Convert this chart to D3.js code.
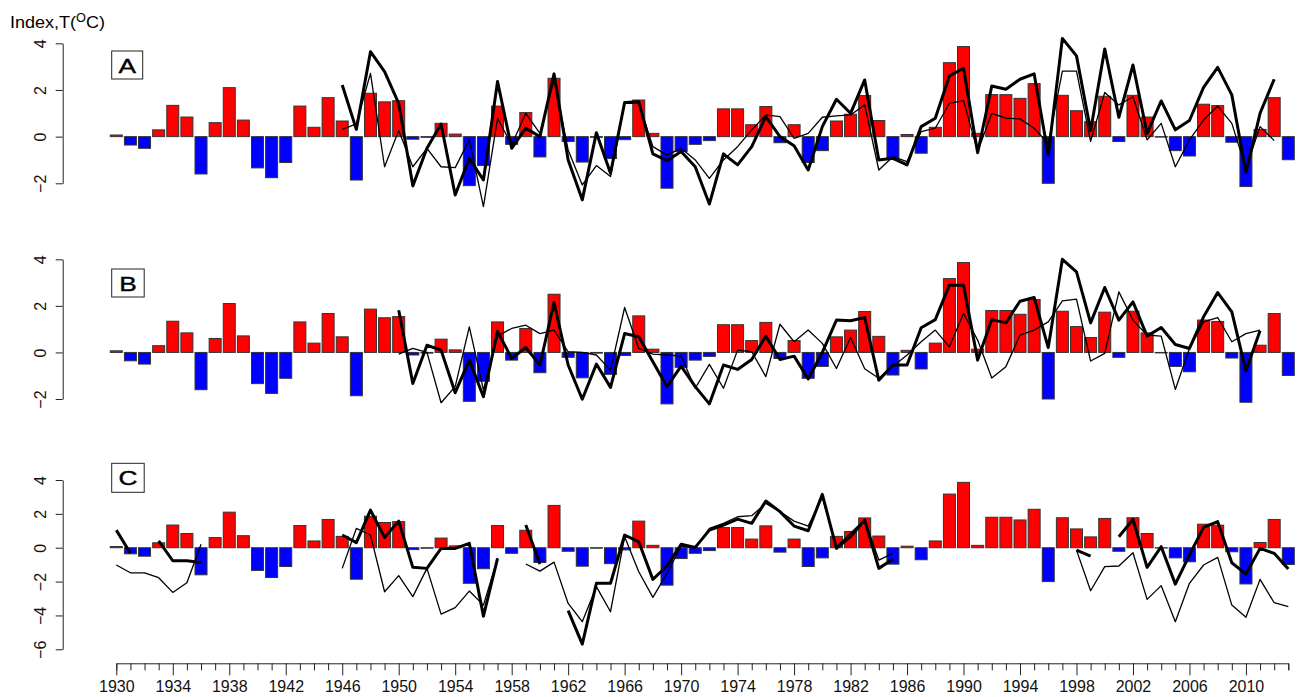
<!DOCTYPE html>
<html><head><meta charset="utf-8">
<script src="https://cdn.jsdelivr.net/npm/d3@7"></script>
<style>
html,body{margin:0;padding:0;background:#fff;}
svg{display:block;font-family:"Liberation Sans",Arial,Helvetica,sans-serif;}
</style></head>
<body>
<svg id="chart" width="1299" height="697"></svg>
<script>
// ---------------- DATA ----------------
const years = d3.range(1930, 2014); // 1930..2013
const xTickLabels = ["1930","1934","1938","1942","1946","1950","1954","1958","1962","1966","1970","1974","1978","1982","1986","1990","1994","1998","2002","2006","2010"];
const panelLetters = ["A","B","C"];

// temperature anomaly bars (same in all panels)
const barValues = [0.07,-0.36,-0.5,0.29,1.34,0.84,-1.6,0.6,2.1,0.71,
 -1.34,-1.76,-1.11,1.31,0.4,1.67,0.67,-1.86,1.86,1.49,
 1.54,-0.11,-0.03,0.57,0.11,-2.1,-1.24,1.31,-0.33,1.03,
 -0.87,2.5,-0.21,-1.09,-0.03,-0.94,-0.13,1.57,0.14,-2.21,
 -0.64,-0.33,-0.17,1.19,1.19,0.51,1.29,-0.26,0.51,-1.11,
 -0.6,0.67,0.96,1.76,0.69,-0.97,0.09,-0.71,0.4,3.17,
 3.86,0.14,1.8,1.8,1.64,2.27,-2.0,1.77,1.11,0.64,
 1.73,-0.21,1.77,0.84,-0.02,-0.6,-0.83,1.39,1.33,-0.24,
 -2.14,0.31,1.67,-0.99];

const N = null;
// Panel A
const thickA = [N,N,N,N,N,N,N,N,N,N, N,N,N,N,N,N,2.21,0.31,3.64,2.79,
 1.43,-2.11,-0.5,0.54,-2.5,-0.93,-1.86,2.36,-0.5,0.36,
 0,2.69,-1.0,-2.71,0.17,-1.57,1.46,1.5,-0.74,-1.03,
 -0.64,-1.29,-2.89,-0.74,-1.21,-0.43,0.86,0,-0.39,-1.43,
 0.43,1.6,1.0,2.43,-1.0,-0.93,-1.21,0.43,0.79,2.6,
 2.93,-0.69,2.17,2.03,2.46,2.69,-0.79,4.21,3.46,0.26,
 3.76,0.83,3.07,0.14,1.53,0.29,0.69,2.11,2.97,1.79,
 -1.54,1.0,2.46,N];
const thinA = [N,N,N,N,N,N,N,N,N,N, N,N,N,N,N,N,0.31,0.55,2.71,-1.29,
 0.26,-1.29,-0.5,-1.29,-1.33,-0.14,-3.0,0.79,-0.36,1.0,
 0.14,2.43,-0.57,-2.07,-1.24,-1.71,1.43,1.43,-0.43,-0.79,
 -0.5,-1.0,-1.79,-1.0,-0.43,0.29,0.93,0.86,-0.07,0.14,
 0.83,0.89,0.93,1.36,-1.43,-0.86,-1.07,0.21,0.36,1.43,
 1.54,-0.64,1.0,0.79,0.76,0.36,-0.29,2.81,2.81,-0.2,
 1.89,1.36,1.71,-0.14,0.57,-1.29,-0.14,0.71,1.31,0.57,
 -1.36,0.43,-0.17,N];
// Panel B
const thickB = [N,N,N,N,N,N,N,N,N,N, N,N,N,N,N,N,N,N,N,N,
 1.81,-1.33,0.31,0.1,-1.73,-0.33,-1.9,0.91,-0.26,0.21,
 -0.54,2.14,-0.54,-2.01,-0.5,-1.5,0.81,0.67,-0.4,-1.47,
 -0.59,-1.47,-2.21,-0.54,-0.73,-0.3,0.7,-0.3,-0.16,-1.14,
 0,1.39,1.36,1.5,-1.19,-0.54,-0.54,1.06,1.41,2.89,
 2.89,-0.33,1.41,1.27,2.2,2.36,0.21,4.0,3.46,1.27,
 2.79,1.39,2.17,0.7,1.07,0.34,0.17,1.53,2.57,1.74,
 -0.79,0.93,N,N];
const thinB = [N,N,N,N,N,N,N,N,N,N, N,N,N,N,N,N,N,N,N,N,
 -0.07,0.17,0.0,-2.16,-1.47,1.1,-1.61,0.7,1.03,1.17,
 0.81,0.96,0.03,0.0,-0.11,-0.76,1.93,0.17,-0.07,-0.11,
 -0.16,-1.54,-0.51,-1.54,0.1,0.03,-1.04,1.21,0.46,0.96,
 0.39,-0.69,0.64,-0.7,-1.11,-0.6,-0.11,0.46,0.96,0.24,
 1.67,0.53,-1.1,-0.61,0.74,0.96,1.31,2.21,2.29,-0.37,
 -0.04,2.6,1.39,0.74,0.7,-1.59,0.17,1.31,1.5,0.46,
 0.81,0.96,N,N];
// Panel C
const thickC = [1.04,-0.33,N,0.41,-0.77,-0.77,-0.87,N,N,N, N,N,N,N,N,N,0.75,0.3,2.22,0.61,
 1.57,-1.16,-1.22,-0.04,-0.04,0.26,-4.04,-0.63,N,1.34,
 -0.96,N,-3.72,-5.69,-2.1,-2.1,0.75,0.35,-1.87,-1.08,
 0.2,0.02,1.04,1.34,1.69,1.44,2.76,2.13,1.28,1.0,
 3.15,-0.04,0.65,1.63,-1.22,-0.67,N,N,N,N,
 N,N,N,N,N,N,N,N,-0.14,-0.49,
 N,0.65,1.67,-1.16,0.06,-2.15,-0.43,1.2,1.54,-0.89,
 -1.56,-0.04,-0.33,-1.26];
const thinC = [-1.02,-1.48,-1.48,-1.77,-2.64,-2.07,0.2,N,N,N, N,N,N,N,N,N,-1.22,1.14,0.75,-2.6,
 -1.65,-2.89,-1.22,-3.92,-3.54,-2.56,-3.39,-0.63,N,-0.96,
 -1.38,-0.85,-3.29,-4.37,-2.3,-3.78,0.65,-1.42,-2.93,-1.52,
 0.1,-0.04,1.14,1.44,1.83,1.89,2.62,2.13,1.57,1.28,
 2.97,0.06,0.85,1.67,-0.73,-0.33,N,N,N,N,
 N,N,N,N,N,N,N,N,-0.14,-2.54,
 -1.12,-1.08,-0.3,-3.05,-2.24,-4.37,-2.1,-1.02,-0.57,-3.39,
 -4.11,-1.87,-3.25,-3.48];

const yTicksAB = [-2,0,2,4];
const yTicksC = [-6,-4,-2,0,2,4];

// ---------------- LAYOUT ----------------
const svg = d3.select("#chart");
const x = d3.scaleLinear().domain([1930, 2013]).range([116.3, 1288.3]);
const barW = 12;

const panels = [
  {letter: panelLetters[0], domain: [-2,4], range: [183.3, 43.3], ticks: yTicksAB, thick: thickA, thin: thinA, boxTop: 51, boxW: 31, boxH: 28},
  {letter: panelLetters[1], domain: [-2,4], range: [399, 259.3], ticks: yTicksAB, thick: thickB, thin: thinB, boxTop: 269, boxW: 32.5, boxH: 28},
  {letter: panelLetters[2], domain: [-6,4], range: [649.3, 480], ticks: yTicksC, thick: thickC, thin: thinC, boxTop: 463.3, boxW: 32.5, boxH: 29}
];

panels.forEach(p => {
  const y = d3.scaleLinear().domain(p.domain).range(p.range);
  const g = svg.append("g");

  // y axis
  const ax = g.append("g").attr("transform", "translate(62.7,0)")
    .call(d3.axisLeft(y).tickValues(p.ticks).tickSize(7).tickSizeOuter(0).tickFormat(d => d < 0 ? "\u2212" + Math.abs(d) : d));
  ax.select(".domain").attr("stroke", "#222").attr("stroke-width", 1);
  ax.selectAll(".tick line").attr("stroke", "#222");
  ax.selectAll(".tick text")
    .attr("x", 0).attr("dy", "0")
    .attr("font-size", 16).attr("fill", "#111")
    .attr("text-anchor", "middle")
    .attr("transform", "translate(-17,0) rotate(-90)");

  // bars
  g.selectAll("rect.bar").data(years).join("rect")
    .attr("class", "bar")
    .attr("x", (d) => x(d) - barW/2)
    .attr("width", barW)
    .attr("y", (d, i) => y(Math.max(0, barValues[i])))
    .attr("height", (d, i) => Math.abs(y(barValues[i]) - y(0)))
    .attr("fill", (d, i) => barValues[i] >= 0 ? "#ff0000" : "#0000ff")
    .attr("stroke", "#333").attr("stroke-width", 1);

  // lines
  const line = d3.line()
    .defined(d => d.v !== null)
    .x(d => x(d.yr)).y(d => y(d.v));
  const mk = arr => years.map((yr, i) => ({yr, v: arr[i]}));
  g.append("path").datum(mk(p.thin)).attr("d", line)
    .attr("fill", "none").attr("stroke", "#000").attr("stroke-width", 1.3).attr("stroke-linejoin", "round");
  g.append("path").datum(mk(p.thick)).attr("d", line)
    .attr("fill", "none").attr("stroke", "#000").attr("stroke-width", 3).attr("stroke-linejoin", "round");

  // letter box
  g.append("rect").attr("x", 111.7).attr("y", p.boxTop).attr("width", p.boxW).attr("height", p.boxH)
    .attr("fill", "#fff").attr("stroke", "#222").attr("stroke-width", 1);
  const cx = 111.7 + p.boxW/2, by = p.boxTop + p.boxH/2 + 7.5;
  g.append("text")
    .attr("transform", `translate(${cx},${by}) scale(1.25,1)`)
    .attr("text-anchor", "middle").attr("font-size", 21).attr("fill", "#000")
    .attr("stroke", "#000").attr("stroke-width", 0.4)
    .text(p.letter);
});

// x axis
const xg = svg.append("g").attr("transform", "translate(0,663.3)")
  .call(d3.axisBottom(x).tickValues(years).tickSizeOuter(0)
    .tickSize(7)
    .tickFormat(d => xTickLabels.includes(String(d)) ? String(d) : ""));
xg.select(".domain").attr("stroke", "#222");
xg.selectAll(".tick line").attr("stroke", "#222")
  .attr("y2", d => xTickLabels.includes(String(d)) ? 12 : 7);
xg.selectAll(".tick text").attr("font-size", 16).attr("fill", "#111").attr("y", 17).attr("dy", "0.71em");

// title
const t = svg.append("text").attr("transform", "translate(10,28) scale(1.06,1)").attr("font-size", 17).attr("fill", "#000");
t.append("tspan").text("Index,T(");
t.append("tspan").attr("font-size", 12).attr("dy", -6).text("O");
t.append("tspan").attr("dy", 6).text("C)");
</script>
</body></html>
